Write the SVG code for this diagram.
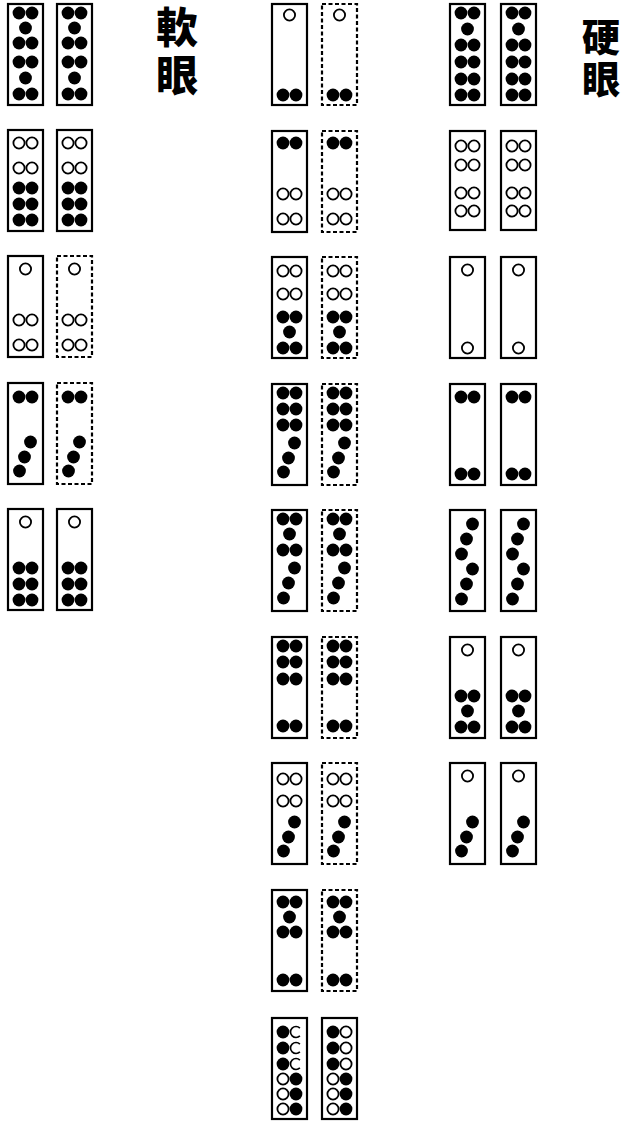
<svg xmlns="http://www.w3.org/2000/svg" xmlns:xlink="http://www.w3.org/1999/xlink" width="633" height="1121" viewBox="0 0 633 1121">
<style>
.t{fill:#fff;stroke:#000;stroke-width:2.2}
.d{fill:#fff;stroke:#000;stroke-width:2.2;stroke-dasharray:4 2.5}
.f{fill:#000}
.o{fill:#fff;stroke:#000;stroke-width:1.8}
.a{fill:none;stroke:#000;stroke-width:1.6}
.cj{font-family:"Noto Sans CJK SC","Noto Sans CJK TC",sans-serif;font-weight:900;fill:#000;writing-mode:vertical-rl}
</style>
<defs>
<g id="p-l1"><circle class="f" cx="11" cy="9" r="6.4"/><circle class="f" cx="24" cy="9" r="6.4"/><circle class="f" cx="17.5" cy="24" r="6.4"/><circle class="f" cx="11" cy="39" r="6.4"/><circle class="f" cx="24" cy="39" r="6.4"/><circle class="f" cx="11" cy="58" r="6.4"/><circle class="f" cx="24" cy="58" r="6.4"/><circle class="f" cx="17.5" cy="74" r="6.4"/><circle class="f" cx="11" cy="90" r="6.4"/><circle class="f" cx="24" cy="90" r="6.4"/></g>
<g id="p-l2"><circle class="o" cx="11" cy="13" r="5.6"/><circle class="o" cx="24" cy="13" r="5.6"/><circle class="o" cx="11" cy="38" r="5.6"/><circle class="o" cx="24" cy="38" r="5.6"/><circle class="f" cx="11" cy="58" r="6.4"/><circle class="f" cx="24" cy="58" r="6.4"/><circle class="f" cx="11" cy="74" r="6.4"/><circle class="f" cx="24" cy="74" r="6.4"/><circle class="f" cx="11" cy="90" r="6.4"/><circle class="f" cx="24" cy="90" r="6.4"/></g>
<g id="p-l3"><circle class="o" cx="17.5" cy="13" r="5.6"/><circle class="o" cx="11" cy="64" r="5.6"/><circle class="o" cx="24" cy="64" r="5.6"/><circle class="o" cx="11" cy="89" r="5.6"/><circle class="o" cx="24" cy="89" r="5.6"/></g>
<g id="p-l4"><circle class="f" cx="11" cy="14" r="6.4"/><circle class="f" cx="24" cy="14" r="6.4"/><circle class="f" cx="22.5" cy="59" r="6.4"/><circle class="f" cx="16.5" cy="74" r="6.4"/><circle class="f" cx="11.5" cy="88" r="6.4"/></g>
<g id="p-l5"><circle class="o" cx="17.5" cy="13" r="5.6"/><circle class="f" cx="11" cy="59" r="6.4"/><circle class="f" cx="24" cy="59" r="6.4"/><circle class="f" cx="11" cy="75" r="6.4"/><circle class="f" cx="24" cy="75" r="6.4"/><circle class="f" cx="11" cy="91" r="6.4"/><circle class="f" cx="24" cy="91" r="6.4"/></g>
<g id="p-m1"><circle class="o" cx="17.5" cy="11" r="5.6"/><circle class="f" cx="11" cy="91" r="6.4"/><circle class="f" cx="24" cy="91" r="6.4"/></g>
<g id="p-m2"><circle class="f" cx="11" cy="12" r="6.4"/><circle class="f" cx="24" cy="12" r="6.4"/><circle class="o" cx="11" cy="63" r="5.6"/><circle class="o" cx="24" cy="63" r="5.6"/><circle class="o" cx="11" cy="88" r="5.6"/><circle class="o" cx="24" cy="88" r="5.6"/></g>
<g id="p-m3"><circle class="o" cx="11" cy="14" r="5.6"/><circle class="o" cx="24" cy="14" r="5.6"/><circle class="o" cx="11" cy="37" r="5.6"/><circle class="o" cx="24" cy="37" r="5.6"/><circle class="f" cx="11" cy="60" r="6.4"/><circle class="f" cx="24" cy="60" r="6.4"/><circle class="f" cx="17.5" cy="75" r="6.4"/><circle class="f" cx="11" cy="91" r="6.4"/><circle class="f" cx="24" cy="91" r="6.4"/></g>
<g id="p-m4"><circle class="f" cx="11" cy="9" r="6.4"/><circle class="f" cx="24" cy="9" r="6.4"/><circle class="f" cx="11" cy="25" r="6.4"/><circle class="f" cx="24" cy="25" r="6.4"/><circle class="f" cx="11" cy="41" r="6.4"/><circle class="f" cx="24" cy="41" r="6.4"/><circle class="f" cx="22.5" cy="59" r="6.4"/><circle class="f" cx="16.5" cy="74" r="6.4"/><circle class="f" cx="11.5" cy="88" r="6.4"/></g>
<g id="p-m5"><circle class="f" cx="11" cy="9" r="6.4"/><circle class="f" cx="24" cy="9" r="6.4"/><circle class="f" cx="17.5" cy="24" r="6.4"/><circle class="f" cx="11" cy="40" r="6.4"/><circle class="f" cx="24" cy="40" r="6.4"/><circle class="f" cx="22.5" cy="58" r="6.4"/><circle class="f" cx="16.5" cy="73" r="6.4"/><circle class="f" cx="11.5" cy="88" r="6.4"/></g>
<g id="p-m6"><circle class="f" cx="11" cy="9" r="6.4"/><circle class="f" cx="24" cy="9" r="6.4"/><circle class="f" cx="11" cy="25" r="6.4"/><circle class="f" cx="24" cy="25" r="6.4"/><circle class="f" cx="11" cy="42" r="6.4"/><circle class="f" cx="24" cy="42" r="6.4"/><circle class="f" cx="11" cy="89" r="6.4"/><circle class="f" cx="24" cy="89" r="6.4"/></g>
<g id="p-m7"><circle class="o" cx="11" cy="16" r="5.6"/><circle class="o" cx="24" cy="16" r="5.6"/><circle class="o" cx="11" cy="38" r="5.6"/><circle class="o" cx="24" cy="38" r="5.6"/><circle class="f" cx="22.5" cy="59" r="6.4"/><circle class="f" cx="16.5" cy="74" r="6.4"/><circle class="f" cx="11.5" cy="88" r="6.4"/></g>
<g id="p-m8"><circle class="f" cx="11" cy="12" r="6.4"/><circle class="f" cx="24" cy="12" r="6.4"/><circle class="f" cx="17.5" cy="27" r="6.4"/><circle class="f" cx="11" cy="42" r="6.4"/><circle class="f" cx="24" cy="42" r="6.4"/><circle class="f" cx="11" cy="90" r="6.4"/><circle class="f" cx="24" cy="90" r="6.4"/></g>
<g id="p-m9a"><circle class="f" cx="11" cy="14" r="6.4"/><circle class="f" cx="11" cy="30" r="6.4"/><circle class="f" cx="11" cy="46" r="6.4"/><path class="a" d="M27.9 10.1A5.5 5.5 0 1 0 27.9 17.9M27.9 26.1A5.5 5.5 0 1 0 27.9 33.9M27.9 42.1A5.5 5.5 0 1 0 27.9 49.9"/><circle class="o" cx="11" cy="61" r="5.6"/><circle class="o" cx="11" cy="76" r="5.6"/><circle class="o" cx="11" cy="91" r="5.6"/><circle class="f" cx="24" cy="61" r="6.4"/><circle class="f" cx="24" cy="76" r="6.4"/><circle class="f" cx="24" cy="91" r="6.4"/></g>
<g id="p-m9b"><circle class="f" cx="11" cy="14" r="6.4"/><circle class="f" cx="11" cy="30" r="6.4"/><circle class="f" cx="11" cy="46" r="6.4"/><circle class="o" cx="24" cy="14" r="5.6"/><circle class="o" cx="24" cy="30" r="5.6"/><circle class="o" cx="24" cy="46" r="5.6"/><circle class="o" cx="11" cy="61" r="5.6"/><circle class="o" cx="11" cy="76" r="5.6"/><circle class="o" cx="11" cy="91" r="5.6"/><circle class="f" cx="24" cy="61" r="6.4"/><circle class="f" cx="24" cy="76" r="6.4"/><circle class="f" cx="24" cy="91" r="6.4"/></g>
<g id="p-r1"><circle class="f" cx="11" cy="9" r="6.4"/><circle class="f" cx="24" cy="9" r="6.4"/><circle class="f" cx="17.5" cy="25" r="6.4"/><circle class="f" cx="11" cy="41" r="6.4"/><circle class="f" cx="24" cy="41" r="6.4"/><circle class="f" cx="11" cy="58" r="6.4"/><circle class="f" cx="24" cy="58" r="6.4"/><circle class="f" cx="11" cy="75" r="6.4"/><circle class="f" cx="24" cy="75" r="6.4"/><circle class="f" cx="11" cy="91" r="6.4"/><circle class="f" cx="24" cy="91" r="6.4"/></g>
<g id="p-r2"><circle class="o" cx="11" cy="15" r="5.6"/><circle class="o" cx="24" cy="15" r="5.6"/><circle class="o" cx="11" cy="34" r="5.6"/><circle class="o" cx="24" cy="34" r="5.6"/><circle class="o" cx="11" cy="62" r="5.6"/><circle class="o" cx="24" cy="62" r="5.6"/><circle class="o" cx="11" cy="80" r="5.6"/><circle class="o" cx="24" cy="80" r="5.6"/></g>
<g id="p-r3"><circle class="o" cx="17.5" cy="13" r="5.6"/><circle class="o" cx="17.5" cy="91" r="5.6"/></g>
<g id="p-r4"><circle class="f" cx="11" cy="13" r="6.4"/><circle class="f" cx="24" cy="13" r="6.4"/><circle class="f" cx="11" cy="90" r="6.4"/><circle class="f" cx="24" cy="90" r="6.4"/></g>
<g id="p-r5"><circle class="f" cx="22.5" cy="14" r="6.4"/><circle class="f" cx="16.5" cy="29" r="6.4"/><circle class="f" cx="11.5" cy="44" r="6.4"/><circle class="f" cx="22.5" cy="59" r="6.4"/><circle class="f" cx="16.5" cy="74" r="6.4"/><circle class="f" cx="11.5" cy="89" r="6.4"/></g>
<g id="p-r6"><circle class="o" cx="17.5" cy="13" r="5.6"/><circle class="f" cx="11" cy="59" r="6.4"/><circle class="f" cx="24" cy="59" r="6.4"/><circle class="f" cx="17.5" cy="74" r="6.4"/><circle class="f" cx="11" cy="90" r="6.4"/><circle class="f" cx="24" cy="90" r="6.4"/></g>
<g id="p-r7"><circle class="o" cx="17.5" cy="13" r="5.6"/><circle class="f" cx="22.5" cy="59" r="6.4"/><circle class="f" cx="16.5" cy="74" r="6.4"/><circle class="f" cx="11.5" cy="88" r="6.4"/></g>
</defs>
<rect width="633" height="1121" fill="#fff"/>
<g id="connectors"/>
<g id="label-soft"><text class="cj" x="177" y="6" font-size="42" letter-spacing="6">軟眼</text></g>
<g id="label-hard"><text class="cj" x="601" y="18" font-size="38" letter-spacing="4">硬眼</text></g>
<g id="l1a" transform="translate(8,4)"><rect class="t" width="35" height="101"/><use href="#p-l1"/></g>
<g id="l1b" transform="translate(57,4)"><rect class="t" width="35" height="101"/><use href="#p-l1"/></g>
<g id="l2a" transform="translate(8,130)"><rect class="t" width="35" height="101"/><use href="#p-l2"/></g>
<g id="l2b" transform="translate(57,130)"><rect class="t" width="35" height="101"/><use href="#p-l2"/></g>
<g id="l3a" transform="translate(8,256)"><rect class="t" width="35" height="101"/><use href="#p-l3"/></g>
<g id="l3b" transform="translate(57,256)"><rect class="d" width="35" height="101"/><use href="#p-l3"/></g>
<g id="l4a" transform="translate(8,383)"><rect class="t" width="35" height="101"/><use href="#p-l4"/></g>
<g id="l4b" transform="translate(57,383)"><rect class="d" width="35" height="101"/><use href="#p-l4"/></g>
<g id="l5a" transform="translate(8,509)"><rect class="t" width="35" height="101"/><use href="#p-l5"/></g>
<g id="l5b" transform="translate(57,509)"><rect class="t" width="35" height="101"/><use href="#p-l5"/></g>
<g id="m1a" transform="translate(272,4)"><rect class="t" width="35" height="101"/><use href="#p-m1"/></g>
<g id="m1b" transform="translate(322,4)"><rect class="d" width="35" height="101"/><use href="#p-m1"/></g>
<g id="m2a" transform="translate(272,131)"><rect class="t" width="35" height="101"/><use href="#p-m2"/></g>
<g id="m2b" transform="translate(322,131)"><rect class="d" width="35" height="101"/><use href="#p-m2"/></g>
<g id="m3a" transform="translate(272,257)"><rect class="t" width="35" height="101"/><use href="#p-m3"/></g>
<g id="m3b" transform="translate(322,257)"><rect class="d" width="35" height="101"/><use href="#p-m3"/></g>
<g id="m4a" transform="translate(272,384)"><rect class="t" width="35" height="101"/><use href="#p-m4"/></g>
<g id="m4b" transform="translate(322,384)"><rect class="d" width="35" height="101"/><use href="#p-m4"/></g>
<g id="m5a" transform="translate(272,510)"><rect class="t" width="35" height="101"/><use href="#p-m5"/></g>
<g id="m5b" transform="translate(322,510)"><rect class="d" width="35" height="101"/><use href="#p-m5"/></g>
<g id="m6a" transform="translate(272,637)"><rect class="t" width="35" height="101"/><use href="#p-m6"/></g>
<g id="m6b" transform="translate(322,637)"><rect class="d" width="35" height="101"/><use href="#p-m6"/></g>
<g id="m7a" transform="translate(272,763)"><rect class="t" width="35" height="101"/><use href="#p-m7"/></g>
<g id="m7b" transform="translate(322,763)"><rect class="d" width="35" height="101"/><use href="#p-m7"/></g>
<g id="m8a" transform="translate(272,890)"><rect class="t" width="35" height="101"/><use href="#p-m8"/></g>
<g id="m8b" transform="translate(322,890)"><rect class="d" width="35" height="101"/><use href="#p-m8"/></g>
<g id="m9a" transform="translate(272,1018)"><rect class="t" width="35" height="101"/><use href="#p-m9a"/></g>
<g id="m9b" transform="translate(322,1018)"><rect class="t" width="35" height="101"/><use href="#p-m9b"/></g>
<g id="r1a" transform="translate(450,4)"><rect class="t" width="35" height="101"/><use href="#p-r1"/></g>
<g id="r1b" transform="translate(501,4)"><rect class="t" width="35" height="101"/><use href="#p-r1"/></g>
<g id="r2a" transform="translate(450,131)"><rect class="t" width="35" height="99"/><use href="#p-r2"/></g>
<g id="r2b" transform="translate(501,131)"><rect class="t" width="35" height="99"/><use href="#p-r2"/></g>
<g id="r3a" transform="translate(450,257)"><rect class="t" width="35" height="101"/><use href="#p-r3"/></g>
<g id="r3b" transform="translate(501,257)"><rect class="t" width="35" height="101"/><use href="#p-r3"/></g>
<g id="r4a" transform="translate(450,384)"><rect class="t" width="35" height="101"/><use href="#p-r4"/></g>
<g id="r4b" transform="translate(501,384)"><rect class="t" width="35" height="101"/><use href="#p-r4"/></g>
<g id="r5a" transform="translate(450,510)"><rect class="t" width="35" height="101"/><use href="#p-r5"/></g>
<g id="r5b" transform="translate(501,510)"><rect class="t" width="35" height="101"/><use href="#p-r5"/></g>
<g id="r6a" transform="translate(450,637)"><rect class="t" width="35" height="101"/><use href="#p-r6"/></g>
<g id="r6b" transform="translate(501,637)"><rect class="t" width="35" height="101"/><use href="#p-r6"/></g>
<g id="r7a" transform="translate(450,763)"><rect class="t" width="35" height="101"/><use href="#p-r7"/></g>
<g id="r7b" transform="translate(501,763)"><rect class="t" width="35" height="101"/><use href="#p-r7"/></g>
</svg>
